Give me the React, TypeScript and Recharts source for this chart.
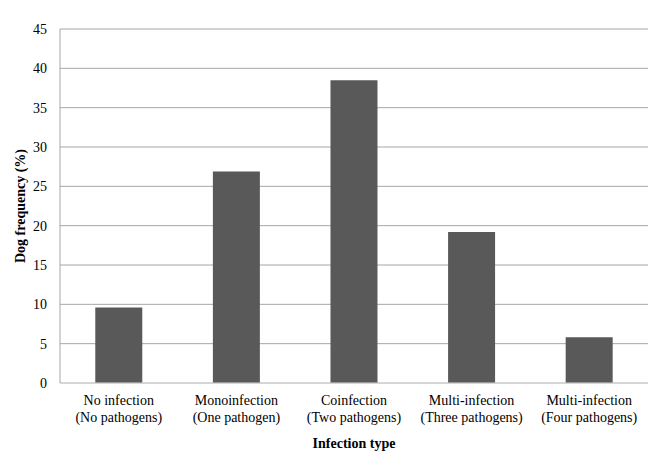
import React from "react";
import {
  BarChart,
  Bar,
  XAxis,
  YAxis,
  CartesianGrid,
  Label,
} from "recharts";

const categories = [
  "No infection\n(No pathogens)",
  "Monoinfection\n(One pathogen)",
  "Coinfection\n(Two pathogens)",
  "Multi-infection\n(Three pathogens)",
  "Multi-infection\n(Four pathogens)",
];
const frequency = [9.6, 26.9, 38.5, 19.2, 5.8];
const yTicks = [0, 5, 10, 15, 20, 25, 30, 35, 40, 45];

const data = categories.map((name, i) => ({ name, value: frequency[i] }));

const FONT = "Liberation Serif";

const CategoryTick = (props: any) => {
  const { x, y, payload } = props;
  const lines = String(payload.value).split("\n");
  return (
    <text
      x={x}
      y={y}
      textAnchor="middle"
      fontFamily={FONT}
      fontSize={14}
      fill="#000"
    >
      {lines.map((line: string, i: number) => (
        <tspan key={i} x={x} dy={i === 0 ? 14 : 17}>
          {line}
        </tspan>
      ))}
    </text>
  );
};

export default function App() {
  return (
    <div style={{ position: "absolute", left: 0, top: 0, background: "#fff" }}>
      <BarChart
        width={670}
        height={462}
        data={data}
        margin={{ top: 29, right: 22, left: 0, bottom: 0 }}
        barCategoryGap="30%"
      >
        <CartesianGrid vertical={false} stroke="#a6a6a6" />
        <XAxis
          dataKey="name"
          height={79}
          tick={<CategoryTick />}
          tickLine={false}
          axisLine={{ stroke: "#d9d9d9" }}
          interval={0}
        >
          <Label
            value="Infection type"
            position="insideBottom"
            offset={14}
            fontFamily={FONT}
            fontSize={14}
            fontWeight="bold"
            fill="#000"
          />
        </XAxis>
        <YAxis
          width={60}
          domain={[0, 45]}
          ticks={yTicks}
          tickLine={false}
          axisLine={{ stroke: "#a6a6a6" }}
          tickMargin={7}
          tick={{ fontFamily: FONT, fontSize: 14, fill: "#000" }}
        >
          <Label
            value="Dog frequency (%)"
            angle={-90}
            position="insideLeft"
            offset={20}
            fontFamily={FONT}
            fontSize={14}
            fontWeight="bold"
            fill="#000"
            style={{ textAnchor: "middle" }}
          />
        </YAxis>
        <Bar dataKey="value" fill="#595959" isAnimationActive={false} />
      </BarChart>
    </div>
  );
}
